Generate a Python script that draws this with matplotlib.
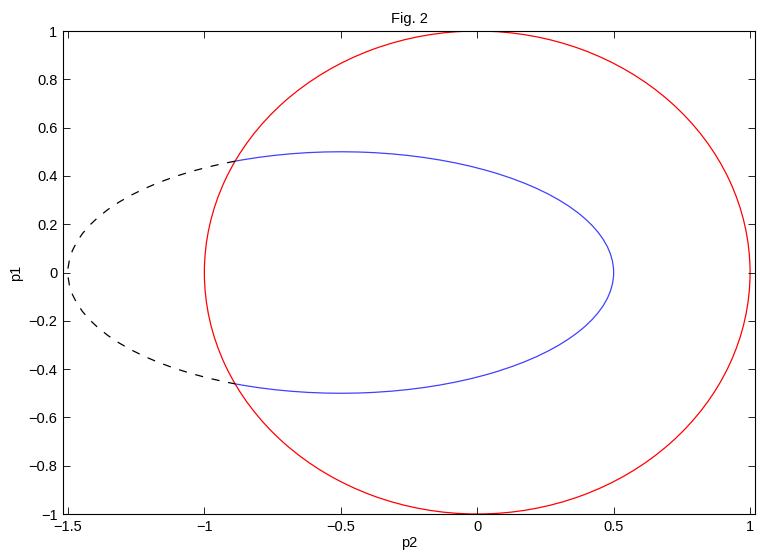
import matplotlib
matplotlib.use("Agg")
import matplotlib.pyplot as plt
from matplotlib.patches import Arc
import numpy as np

plt.rcParams['font.family'] = ['Liberation Sans', 'DejaVu Sans']

# circle (red) and ellipse (blue / dashed) in the p2-p1 plane
circle_center = (0.0, 0.0)
circle_radius = 1.0
ellipse_center = (-0.5, 0.0)
ellipse_half_axes = (1.0, 0.5)   # along p2, along p1

xticks = [-1.5, -1, -0.5, 0, 0.5, 1]
yticks = [-1, -0.8, -0.6, -0.4, -0.2, 0, 0.2, 0.4, 0.6, 0.8, 1]

# where the ellipse crosses the circle (polar angle seen from the ellipse centre)
a, b = ellipse_half_axes
cx = ellipse_center[0]
# x^2 + b^2 (1 - (x - cx)^2 / a^2) = r^2
qa = 1 - b**2 / a**2
qb = 2 * cx * b**2 / a**2
qc = b**2 - b**2 * cx**2 / a**2 - circle_radius**2
xi = (-qb - np.sqrt(qb**2 - 4 * qa * qc)) / (2 * qa)
yi = np.sqrt(circle_radius**2 - xi**2)
split = np.degrees(np.arctan2(yi, xi - cx))

fig = plt.figure(figsize=(7.61, 5.54), dpi=100)
ax = fig.add_axes([0.0828, 0.0722, 0.9093, 0.8718])

ax.add_patch(Arc(circle_center, 2 * circle_radius, 2 * circle_radius,
                 theta1=0, theta2=360, color='#ff0000', lw=0.9))
ax.add_patch(Arc(ellipse_center, 2 * a, 2 * b, theta1=-split, theta2=split,
                 color='#0000ff', lw=0.9, alpha=0.75))
ax.add_patch(Arc(ellipse_center, 2 * a, 2 * b, theta1=split, theta2=360 - split,
                 color='black', lw=0.9, linestyle=(0, (6.5, 7))))

ax.set_xlim(-1.518, 1.018)
ax.set_ylim(-1, 1)
ax.set_xticks(xticks)
ax.set_yticks(yticks)
ax.set_xticklabels(['\u22121.5', '\u22121', '\u22120.5', '0', '0.5', '1'])
ax.set_yticklabels(['\u22121', '\u22120.8', '\u22120.6', '\u22120.4', '\u22120.2',
                    '0', '0.2', '0.4', '0.6', '0.8', '1'])
ax.tick_params(direction='in', top=True, right=True, length=5, width=0.6,
               labelsize=10.5, pad=4)
for s in ax.spines.values():
    s.set_linewidth(0.8)

ax.set_xlabel('p2', fontsize=10.5, labelpad=2)
ax.set_ylabel('p1', fontsize=10.5, labelpad=4)
ax.set_title('Fig. 2', fontsize=10.5, pad=6)

fig.savefig('out.png', dpi=100)
